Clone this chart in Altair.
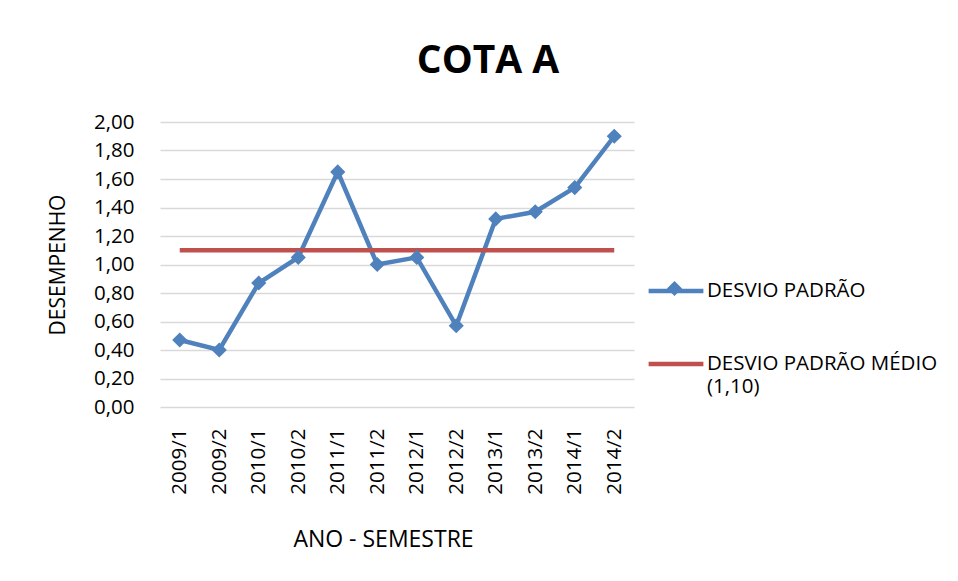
import altair as alt
import pandas as pd

periodos = ["2009/1", "2009/2", "2010/1", "2010/2", "2011/1", "2011/2",
            "2012/1", "2012/2", "2013/1", "2013/2", "2014/1", "2014/2"]
desvio = [0.47, 0.40, 0.87, 1.05, 1.65, 1.00, 1.05, 0.57, 1.32, 1.37, 1.54, 1.90]
media = 1.10

SERIE_A = "DESVIO PADRÃO"
SERIE_B = "DESVIO PADRÃO MÉDIO (1,10)"
AZUL = "#4f81bd"
VERMELHO = "#c0504d"
FONT = "Open Sans"

df_a = pd.DataFrame({"periodo": periodos, "valor": desvio, "serie": SERIE_A,
                     "marcador": SERIE_A})
df_b = pd.DataFrame({"periodo": periodos, "valor": [media] * len(periodos), "serie": SERIE_B})

x = alt.X("periodo:N", sort=periodos,
          scale=alt.Scale(paddingInner=0, paddingOuter=0),
          axis=alt.Axis(title="ANO - SEMESTRE", labelAngle=270, ticks=False, domain=False,
                        grid=False, labelPadding=21, titlePadding=34, titleX=223,
                        labelFontSize=20.5, titleFontSize=23, titleFontWeight="normal",
                        labelColor="#000", titleColor="#000"))
y = alt.Y("valor:Q", scale=alt.Scale(domain=[0, 2]),
          axis=alt.Axis(title="DESEMPENHO", values=[i / 10 for i in range(0, 21, 2)],
                        labelExpr="replace(format(datum.value, '.2f'), '.', ',')",
                        ticks=False, domain=False, gridColor="#d9d9d9", gridWidth=1.6,
                        labelPadding=26, titlePadding=25,
                        labelFontSize=20.5, titleFontSize=21, titleFontWeight="normal",
                        labelColor="#000", titleColor="#000"))

label_expr = ("datum.label === '" + SERIE_B + "' ? ['DESVIO PADRÃO MÉDIO', '(1,10)'] : datum.label")

legend_main = alt.Legend(title=None, orient="none", legendX=486, legendY=139,
                         labelFontSize=20.5, labelColor="#000", labelExpr=label_expr,
                         labelLimit=400, rowPadding=32, labelOffset=1,
                         symbolSize=3000, symbolStrokeWidth=4.5)

marker_legend = alt.Legend(title=None, orient="none", legendX=506, legendY=158,
                           labelExpr="''", symbolSize=230, symbolFillColor=AZUL,
                           symbolStrokeColor=AZUL, symbolOpacity=1, symbolType="diamond")

color_scale = alt.Scale(domain=[SERIE_A, SERIE_B], range=[AZUL, VERMELHO])

linha = alt.Chart(df_a).mark_line(strokeWidth=4.5).encode(
    x=x, y=y, color=alt.Color("serie:N", scale=color_scale, legend=legend_main))
linha_media = alt.Chart(df_b).mark_line(strokeWidth=4.5).encode(
    x=x, y=y, color=alt.Color("serie:N", scale=color_scale, legend=legend_main))
pontos = alt.Chart(df_a).mark_point(filled=True, size=230, opacity=1, color=AZUL).encode(
    x=x, y=y,
    shape=alt.Shape("marcador:N", scale=alt.Scale(domain=[SERIE_A], range=["diamond"]),
                    legend=marker_legend))

chart = alt.layer(linha, linha_media, pontos).properties(
    width=474, height=285,
    title=alt.TitleParams("COTA A", fontSize=39, fontWeight="bold", font=FONT,
                          anchor="middle", dx=91, offset=31, color="#000"),
    autosize=alt.AutoSizeParams(type="none"),
    padding={"left": 152, "top": 114, "right": 316, "bottom": 166},
).configure(font=FONT).configure_view(stroke=None).configure_axis(
    labelFont=FONT, titleFont=FONT).configure_legend(labelFont=FONT)

chart.save("out.html", embed_options={"renderer": "svg", "actions": False})
